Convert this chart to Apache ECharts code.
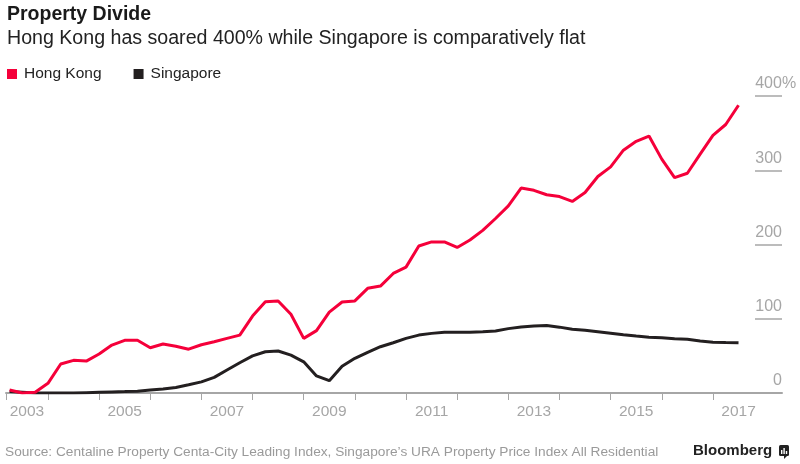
<!DOCTYPE html>
<html>
<head>
<meta charset="utf-8">
<script src="https://cdn.jsdelivr.net/npm/echarts@6/dist/echarts.min.js"></script>
<style>
html,body{margin:0;padding:0;background:#fff;}
#chart{width:800px;height:464px;}
</style>
</head>
<body>
<div id="chart"></div>
<script>
// ---- Data (quarterly index, % change since 2003) ----
const title = 'Property Divide';
const subtitle = 'Hong Kong has soared 400% while Singapore is comparatively flat';
const source = 'Source: Centaline Property Centa-City Leading Index, Singapore\u2019s URA Property Price Index All Residential';
const seriesNames = ['Hong Kong', 'Singapore'];
const firstYear = 2003, lastYear = 2017, lastQuarter = 2;
const hongKong = [
  4, 0, 1, 13, 39, 44, 43, 52.5, 64.6, 71, 71, 61, 66, 63, 59, 65,
  69, 73.6, 78, 103.6, 123, 124, 106, 73.6, 84, 109, 122.5, 124, 141, 144,
  161, 169.5, 198, 203.5, 203.5, 196, 206, 219, 235, 252, 276, 273, 267, 264.5,
  258, 270, 291.5, 304.6, 327, 339, 346, 315, 290, 296, 321.7, 347, 361.6, 387.6
];
const singapore = [
  2, 1, 0, 0, 0, 0, 0.5, 1, 1.5, 2, 2.5, 4, 5.5, 7.5, 11, 15,
  21, 31, 40.8, 50, 55.6, 56.5, 51, 42, 23, 16.6, 36, 46.7, 54.8, 62.3,
  67.7, 73.6, 78, 80.3, 81.7, 81.7, 81.7, 82.5, 83.4, 86.7, 89, 90.3, 91, 88.7,
  86, 84.5, 82.5, 80.5, 78.5, 76.7, 75.2, 74.4, 73, 72.5, 70, 68.5, 68, 67.7
];
const yTicks = [0, 100, 200, 300, 400];
const xTickYears = [2004, 2005, 2006, 2007, 2008, 2009, 2010, 2011, 2012, 2013, 2014, 2015, 2016, 2017];
const xLabelYears = [2003, 2005, 2007, 2009, 2011, 2013, 2015, 2017];

// quarter-end positions in decimal years
const quarterPos = [];
for (let y = firstYear; y <= lastYear; y++) {
  for (let q = 1; q <= 4; q++) {
    if (y === lastYear && q > lastQuarter) break;
    quarterPos.push(y + q * 0.25);
  }
}
const xMin = 2003.18, xMax = 2018.35;

const RED = '#f5003a', BLACK = '#231f20', GREY = '#a6a6a6', FONT = '"Liberation Sans", Arial, Helvetica, sans-serif';

const chart = echarts.init(document.getElementById('chart'), null, {renderer: 'canvas'});
chart.setOption({
  animation: false,
  backgroundColor: '#fff',
  textStyle: {fontFamily: FONT},
  title: [
    {text: title, left: 7, top: 5, padding: 0,
     textStyle: {fontFamily: FONT, fontSize: 19.5, fontWeight: 'bold', color: '#1a1a1a'}},
    {text: subtitle, left: 7, top: 29, padding: 0,
     textStyle: {fontFamily: FONT, fontSize: 19.6, fontWeight: 'normal', color: '#222'}}
  ],
  legend: {
    left: 7, top: 66, padding: 0, itemGap: 32,
    icon: 'rect', itemWidth: 10, itemHeight: 10,
    textStyle: {fontFamily: FONT, fontSize: 15.5, color: '#222', padding: [0, 0, 0, 2]},
    data: [{name: seriesNames[0], itemStyle: {color: RED}}, {name: seriesNames[1], itemStyle: {color: BLACK}}]
  },
  grid: {left: 6, right: 18, top: 96, bottom: 71, containLabel: false},
  xAxis: {
    type: 'value', min: xMin, max: xMax,
    axisLine: {show: true, lineStyle: {color: GREY, width: 2}},
    axisTick: {show: true, length: 7, lineStyle: {color: GREY, width: 1},
               customValues: [xMin].concat(xTickYears)},
    axisLabel: {color: GREY, fontSize: 15.5, fontFamily: FONT, margin: 11,
                customValues: xLabelYears.map(y => y === 2003 ? 2003.59 : y + 0.5),
                formatter: v => String(Math.floor(v))},
    splitLine: {show: false}
  },
  yAxis: {
    type: 'value', position: 'right', min: 0, max: 400, interval: 100,
    axisLine: {show: false},
    axisTick: {show: true, inside: true, length: 27, lineStyle: {color: GREY, width: 1.5}},
    axisLabel: {
      inside: false, margin: -27, align: 'left', verticalAlign: 'bottom',
      color: GREY, fontSize: 16, fontFamily: FONT,
      formatter: v => v === 400 ? '{n|' + v + '}{p|%}' : '{n|' + v + '}',
      rich: {
        n: {width: 27, align: 'right', color: GREY, fontSize: 16, fontFamily: FONT, padding: [0, 0, 4, 0]},
        p: {color: GREY, fontSize: 16, fontFamily: FONT, padding: [0, 0, 4, 0]}
      }
    },
    splitLine: {show: false}
  },
  series: [
    {name: seriesNames[0], type: 'line', data: hongKong.map((v, i) => [quarterPos[i], v]),
     showSymbol: false, symbol: 'none', lineStyle: {color: RED, width: 3}, itemStyle: {color: RED}, z: 3},
    {name: seriesNames[1], type: 'line', data: singapore.map((v, i) => [quarterPos[i], v]),
     showSymbol: false, symbol: 'none', lineStyle: {color: BLACK, width: 3}, itemStyle: {color: BLACK}, z: 2}
  ],
  graphic: [
    {type: 'text', left: 5, top: 445, style: {text: source, fill: '#9a9a9a', font: '13.7px ' + FONT}},
    {type: 'text', left: 693, top: 443, style: {text: 'Bloomberg', fill: '#222', font: 'bold 15px ' + FONT}},
    {type: 'group', left: 779, top: 445, children: [
      {type: 'rect', shape: {x: 0, y: 0, width: 10, height: 11, r: 1.5}, style: {fill: '#222'}},
      {type: 'polygon', shape: {points: [[5, 11], [8, 11], [5, 14]]}, style: {fill: '#222'}},
      {type: 'rect', shape: {x: 2, y: 5, width: 1.4, height: 4}, style: {fill: '#fff'}},
      {type: 'rect', shape: {x: 4.4, y: 3, width: 1.4, height: 6}, style: {fill: '#fff'}},
      {type: 'rect', shape: {x: 6.8, y: 6, width: 1.4, height: 3}, style: {fill: '#fff'}}
    ]}
  ]
});
</script>
</body>
</html>
